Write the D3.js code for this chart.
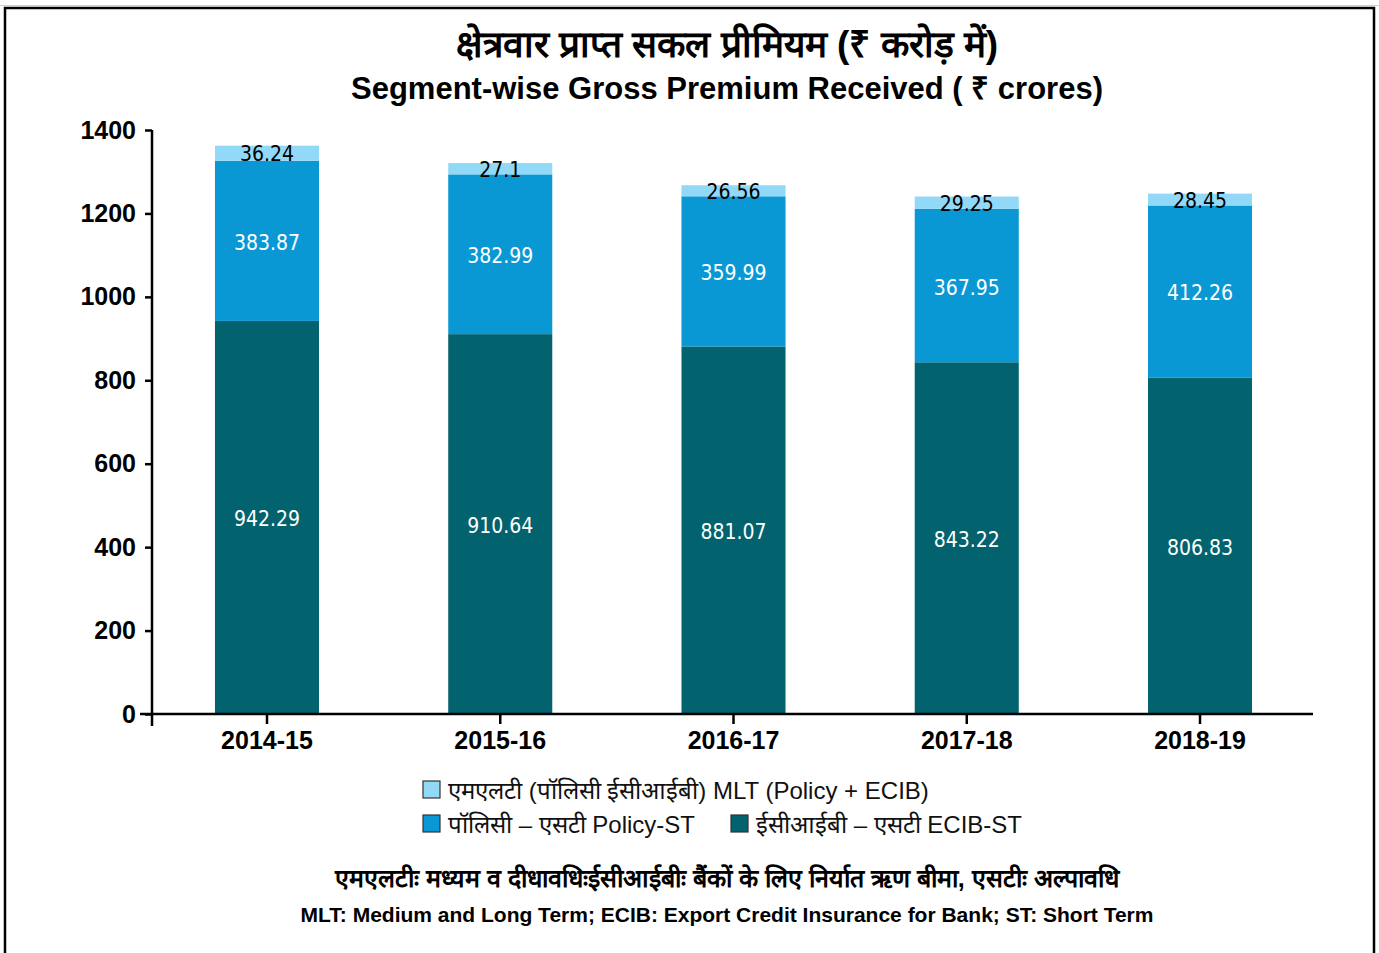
<!DOCTYPE html>
<html>
<head>
<meta charset="utf-8">
<script src="https://cdn.jsdelivr.net/npm/d3@7"></script>
<style>
  body { margin: 0; background: #fff; }
  svg text { font-family: "Liberation Sans", Arial, sans-serif; }
</style>
</head>
<body>
<div id="chart"></div>
<script>
"use strict"

// data
var years = ['2014-15', '2015-16', '2016-17', '2017-18', '2018-19'];
var ecibST = [942.29, 910.64, 881.07, 843.22, 806.83];
var policyST = [383.87, 382.99, 359.99, 367.95, 412.26];
var mlt = [36.24, 27.1, 26.56, 29.25, 28.45];
var yTicks = [0, 200, 400, 600, 800, 1000, 1200, 1400];

var seriesKeys = ['ecib', 'policy', 'mlt'];
var colors = {ecib: '#02626d', policy: '#0a98d5', mlt: '#92d9f7'};
var labelColors = {ecib: '#ffffff', policy: '#ffffff', mlt: '#000000'};

var rows = years.map(function(y, i) {
    return {year: y, ecib: ecibST[i], policy: policyST[i], mlt: mlt[i]};
});

var W = 1379, H = 953;
var svg = d3.select('#chart').append('svg')
    .attr('width', W)
    .attr('height', H);

// frame
svg.append('line').attr('x1', 0).attr('x2', W).attr('y1', 5.5).attr('y2', 5.5)
    .attr('stroke', '#cfcfcf').attr('stroke-width', 1);
svg.append('rect').attr('x', 5).attr('y', 8).attr('width', 1369).attr('height', 960)
    .attr('fill', 'none').attr('stroke', '#000').attr('stroke-width', 2.5);

// titles
svg.append('text').attr('x', 727).attr('y', 57).attr('text-anchor', 'middle')
    .style('font-size', '37px').style('font-weight', 'bold')
    .text('क्षेत्रवार प्राप्त सकल प्रीमियम (₹ करोड़ में)');
svg.append('text').attr('x', 727).attr('y', 99).attr('text-anchor', 'middle')
    .style('font-size', '31px').style('font-weight', 'bold')
    .text('Segment-wise Gross Premium Received ( ₹ crores)');

// scales
var x = d3.scaleBand()
    .domain(years)
    .range([152, 1315])
    .paddingInner(0.554)
    .paddingOuter(0.27);
var y = d3.scaleLinear()
    .domain([0, 1400])
    .range([714, 130]);

var stackedData = d3.stack().keys(seriesKeys)(rows);

// bars
var g = svg.append('g');
g.selectAll('g')
    .data(stackedData)
    .enter()
    .append('g')
    .attr('fill', function(d) { return colors[d.key]; })
    .selectAll('rect')
    .data(function(d) { return d; })
    .enter()
    .append('rect')
    .attr('x', function(d) { return x(d.data.year); })
    .attr('y', function(d) { return y(d[1]); })
    .attr('width', x.bandwidth())
    .attr('height', function(d) { return y(d[0]) - y(d[1]); });

// value labels
stackedData.forEach(function(layer) {
    svg.append('g').selectAll('text')
        .data(layer)
        .enter()
        .append('text')
        .attr('x', function(d) { return x(d.data.year) + x.bandwidth() / 2; })
        .attr('y', function(d) { return (y(d[0]) + y(d[1])) / 2 + (layer.key == 'mlt' ? 1 : 2); })
        .attr('text-anchor', 'middle')
        .attr('dominant-baseline', 'central')
        .attr('fill', labelColors[layer.key])
        .style('font-family', '"DejaVu Sans Condensed", "DejaVu Sans", sans-serif')
        .style('font-size', '21px')
        .text(function(d) { return d.data[layer.key]; });
});

// y axis
var yAxis = svg.append('g')
    .attr('transform', 'translate(152,0)')
    .call(d3.axisLeft(y).tickValues(yTicks).tickFormat(d3.format('d'))
        .tickSize(7).tickSizeOuter(0).tickPadding(9));
yAxis.select('.domain').remove();
yAxis.selectAll('line').attr('stroke-width', 2.5);
yAxis.selectAll('text').style('font-size', '25px').style('font-weight', 'bold')
    .style('font-family', '"Liberation Sans", Arial, sans-serif').attr('fill', '#000');
svg.append('line').attr('x1', 152).attr('x2', 152).attr('y1', 130).attr('y2', 726)
    .attr('stroke', '#000').attr('stroke-width', 2.5);

// x axis
var xAxis = svg.append('g')
    .attr('transform', 'translate(0,714)')
    .call(d3.axisBottom(x).tickSize(10).tickSizeOuter(0).tickPadding(7));
xAxis.select('.domain').remove();
xAxis.selectAll('line').attr('stroke-width', 2.5);
xAxis.selectAll('text').style('font-size', '25px').style('font-weight', 'bold')
    .style('font-family', '"Liberation Sans", Arial, sans-serif').attr('fill', '#000');
svg.append('line').attr('x1', 140).attr('x2', 1313).attr('y1', 714).attr('y2', 714)
    .attr('stroke', '#000').attr('stroke-width', 2.5);

// legend
var legendItems = [
    {key: 'mlt', text: 'एमएलटी (पॉलिसी ईसीआईबी) MLT (Policy + ECIB)', lx: 423, ly: 789},
    {key: 'policy', text: 'पॉलिसी  –  एसटी Policy-ST', lx: 423, ly: 823},
    {key: 'ecib', text: 'ईसीआईबी  –  एसटी ECIB-ST', lx: 731, ly: 823}
];
var lg = svg.append('g').selectAll('g')
    .data(legendItems)
    .enter()
    .append('g')
    .attr('transform', function(d) { return 'translate(' + d.lx + ',' + d.ly + ')'; });
lg.append('rect').attr('x', 0).attr('y', -8).attr('width', 17).attr('height', 17)
    .attr('fill', function(d) { return colors[d.key]; })
    .attr('stroke', '#333').attr('stroke-width', 1.2);
lg.append('text').attr('x', 25).attr('y', 1).attr('dominant-baseline', 'central')
    .style('font-size', '24px').attr('fill', '#111')
    .text(function(d) { return d.text; });

// footnotes
svg.append('text').attr('x', 727).attr('y', 887).attr('text-anchor', 'middle')
    .style('font-size', '25px').style('font-weight', 'bold')
    .text('एमएलटीः मध्यम व दीधावधिःईसीआईबीः बैंकों के  लिए निर्यात ऋण बीमा, एसटीः अल्पावधि');
svg.append('text').attr('x', 727).attr('y', 922).attr('text-anchor', 'middle')
    .style('font-size', '21px').style('font-weight', 'bold')
    .text('MLT: Medium and Long Term; ECIB: Export Credit Insurance for Bank; ST: Short Term');
</script>
</body>
</html>
